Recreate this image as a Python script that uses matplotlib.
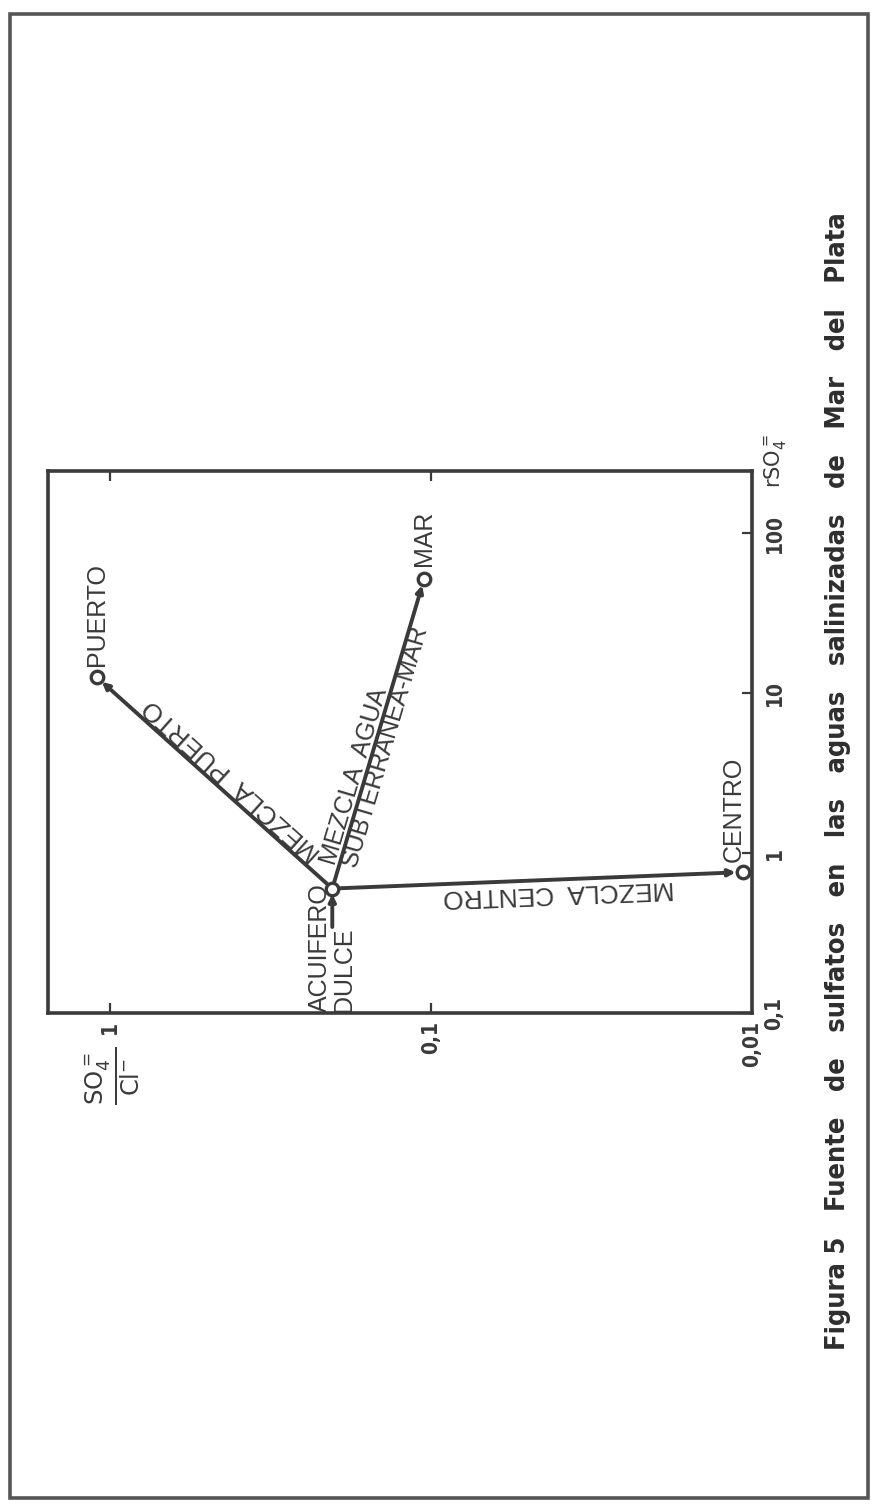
import numpy as np
import matplotlib
matplotlib.use("Agg")
import matplotlib.pyplot as plt
from matplotlib.patches import Rectangle

# ---------------------------------------------------------------------------
# Datos: rSO4 (meq/l) y relacion SO4/Cl
# ---------------------------------------------------------------------------
puntos = ["PUERTO", "MAR", "CENTRO"]
rso4_puntos = [12.6, 52.0, 0.76]
ratio_puntos = [1.10, 0.105, 0.0107]

# acuifero dulce (origen de las mezclas)
rso4_acuifero = 0.60
ratio_acuifero = 0.203
# tramo corto del acuifero dulce
rso4_tramo = 0.345

ratio_ticks = [1, 0.1, 0.01]
ratio_ticklabels = ["1", "0,1", "0,01"]
rso4_ticks = [0.1, 1, 10, 100]
rso4_ticklabels = ["0,1", "1", "10", "100"]

ink = "#3a3a3a"
W, H = 871, 1509

fig = plt.figure(figsize=(W / 100, H / 100), dpi=100)
fig.patch.set_facecolor("white")

# figura girada 90 grados: eje x = SO4/Cl (invertido), eje y = rSO4
ax = fig.add_axes([48 / W, 1 - 1013 / H, 704 / W, 542 / H])
ax.set_xscale("log")
ax.set_yscale("log")
ax.set_xlim(1.56, 0.01)
ax.set_ylim(0.1, 245)

for s in ax.spines.values():
    s.set_linewidth(2.6)
    s.set_color(ink)

cond = dict(family="DejaVu Sans", fontstretch="condensed", fontweight="bold")

ax.set_xticks(ratio_ticks)
ax.set_xticklabels(ratio_ticklabels, rotation=90, color=ink, fontsize=15, **cond)
ax.set_yticks(rso4_ticks)
ax.set_yticklabels(rso4_ticklabels, rotation=90, color=ink, fontsize=15,
                   va="center", **cond)
ax.minorticks_off()
ax.tick_params(axis="x", which="major", direction="in", top=True, bottom=True,
               length=7, width=1.6, color=ink, pad=6)
ax.tick_params(axis="y", which="major", direction="in", left=False, right=True,
               labelleft=False, labelright=True, length=7, width=1.6,
               color=ink, pad=9)

# ---------------------------------------------------------------------------
# Lineas de mezcla
# ---------------------------------------------------------------------------
arrow = dict(arrowstyle="-|>,head_length=0.4,head_width=0.2", lw=2.8,
             color=ink, shrinkA=0, shrinkB=5)
for r, q in zip(rso4_puntos, ratio_puntos):
    ax.annotate("", xy=(q, r), xytext=(ratio_acuifero, rso4_acuifero),
                arrowprops=arrow)
ax.annotate("", xy=(ratio_acuifero, rso4_acuifero),
            xytext=(ratio_acuifero, rso4_tramo),
            arrowprops=dict(arrow, shrinkB=4))

ax.plot(ratio_puntos, rso4_puntos, "o", ms=9, mfc="white", mec=ink, mew=2.4,
        zorder=5)
ax.plot([ratio_acuifero], [rso4_acuifero], "o", ms=9, mfc="white", mec=ink,
        mew=2.4, zorder=5)

lab = dict(family="Liberation Sans", fontsize=18, color=ink)

# rotulos de los extremos
offs = {"PUERTO": (0, 8), "MAR": (0, 9), "CENTRO": (-6, 7)}
for name, r, q in zip(puntos, rso4_puntos, ratio_puntos):
    ax.annotate(name, xy=(q, r), xytext=offs[name], textcoords="offset points",
                rotation=90, rotation_mode="anchor", ha="left", va="center",
                **lab)

ax.annotate("ACUIFERO\nDULCE", xy=(ratio_acuifero, 0.1), xytext=(0, 1),
            textcoords="offset points", rotation=90, rotation_mode="anchor",
            ha="left", va="center", multialignment="left", linespacing=1.0,
            **lab)


def angulo(q0, r0, q1, r1):
    p0 = ax.transData.transform((q0, r0))
    p1 = ax.transData.transform((q1, r1))
    return np.degrees(np.arctan2(p1[1] - p0[1], p1[0] - p0[0]))


def rotulo_linea(texto, i, dx, dy, flip, size=18):
    q, r = ratio_puntos[i], rso4_puntos[i]
    ang = angulo(ratio_acuifero, rso4_acuifero, q, r)
    if flip:
        ang += 180
    mid = (np.sqrt(ratio_acuifero * q), np.sqrt(rso4_acuifero * r))
    ax.annotate(texto, xy=mid, xytext=(dx, dy), textcoords="offset points",
                rotation=ang, rotation_mode="anchor", ha="center",
                va="center", **dict(lab, fontsize=size))


rotulo_linea("MEZCLA  PUERTO", 0, 13, 2, False, 19)
rotulo_linea("MEZCLA  AGUA", 1, -17, -31, False)
rotulo_linea("SUBTERRANEA-MAR", 1, 5, -9, False)
rotulo_linea("MEZCLA  CENTRO", 2, 15, -9, True, 19)

# rotulos de los ejes
ax.text(1.033, 1.018, r"r$\mathrm{SO}_4^{=}$", transform=ax.transAxes,
        rotation=90, ha="center", va="center", fontsize=15, color=ink,
        family="DejaVu Sans")
ax.text(0.092, -0.115, r"$\frac{\mathrm{SO}_4^{=}}{\mathrm{Cl}^{-}}$",
        transform=ax.transAxes, rotation=90, ha="center", va="center",
        fontsize=25, color=ink, family="DejaVu Sans")

# leyenda de la figura
fig.text(838 / W, 1 - 781 / H,
         "Figura 5   Fuente   de   sulfatos   en   las   aguas   salinizadas   de   Mar   del   Plata",
         rotation=90, ha="center", va="center", fontsize=19.5, color="#2e2e2e",
         **cond)

# marco de la pagina
fig.add_artist(Rectangle((10 / W, 1 - 1498 / H), 858 / W, 1484 / H,
                         transform=fig.transFigure, fill=False, lw=2.6,
                         ec="#555555"))

fig.savefig("out.png", dpi=100)
